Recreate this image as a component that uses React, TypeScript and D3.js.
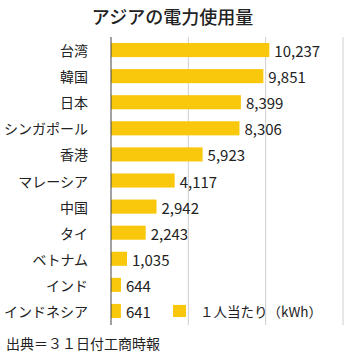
import React from "react";
import * as d3 from "d3";

const categories = ["台湾", "韓国", "日本", "シンガポール", "香港", "マレーシア", "中国", "タイ", "ベトナム", "インド", "インドネシア"];
const values = [10237, 9851, 8399, 8306, 5923, 4117, 2942, 2243, 1035, 644, 641];
const gridTicks = [5000, 10000, 15000];
const title = "アジアの電力使用量";
const legendLabel = "１人当たり（kWh）";
const sourceText = "出典＝３１日付工商時報";

const W = 350;
const H = 353;
const FONT = "'Noto Sans CJK JP', 'Noto Sans', sans-serif";
const BAR = "#F9C70C";

export default function App() {
  const x = d3.scaleLinear().domain([0, 15000]).range([111, 343]);
  const y = d3
    .scaleBand<string>()
    .domain(categories)
    .range([37, 324])
    .paddingInner(0.46)
    .paddingOuter(0.23);
  const fmt = d3.format(",");
  const bw = y.bandwidth();
  const lastY = (y(categories[categories.length - 1]) as number);

  return (
    <svg
      width={W}
      height={H}
      style={{ position: "absolute", left: 0, top: 0, background: "#fff" }}
      fontFamily={FONT}
    >
      <rect width={W} height={H} fill="#fff" />
      <text x={172.5} y={24} textAnchor="middle" fontSize={18} fontWeight={500} fill="#222">
        {title}
      </text>
      {gridTicks.map((t) => (
        <line key={t} x1={x(t)} x2={x(t)} y1={37} y2={325} stroke="#cfcfcf" strokeWidth={1} />
      ))}
      {categories.map((c, i) => {
        const yy = y(c) as number;
        return (
          <g key={c}>
            <rect x={x(0)} y={yy} width={x(values[i]) - x(0)} height={bw} fill={BAR} />
            <text
              x={88}
              y={yy + bw / 2}
              textAnchor="end"
              dominantBaseline="central"
              fontSize={14}
              fill="#222"
            >
              {c}
            </text>
            <text
              x={x(values[i]) + 5}
              y={yy + bw / 2 + 0.5}
              dominantBaseline="central"
              fontSize={15}
              fill="#222"
            >
              {fmt(values[i])}
            </text>
          </g>
        );
      })}
      <line x1={x(0)} x2={x(0)} y1={37} y2={325} stroke="#444" strokeWidth={1} />
      <rect x={173} y={lastY + 1} width={13} height={bw - 2} fill={BAR} />
      <text x={200} y={lastY + bw / 2} dominantBaseline="central" fontSize={13.5} fill="#222">
        {legendLabel}
      </text>
      <text x={6} y={343} dominantBaseline="central" fontSize={14} fill="#222">
        {sourceText}
      </text>
    </svg>
  );
}
